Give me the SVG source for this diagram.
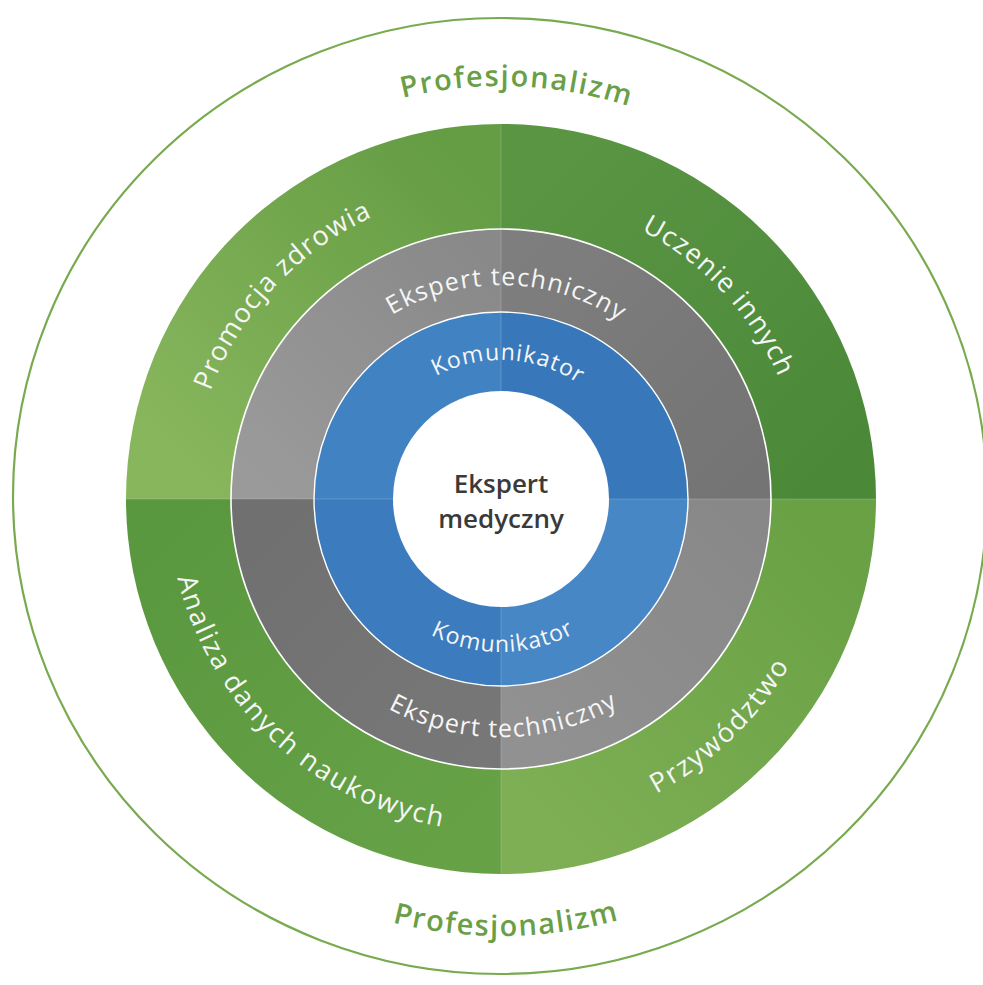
<svg xmlns="http://www.w3.org/2000/svg" xmlns:xlink="http://www.w3.org/1999/xlink" width="983" height="985" viewBox="0 0 983 985">
<style>
.lbl{font-family:"Open Sans","Liberation Sans",sans-serif;fill:#f6f6f6;}
.green{font-size:27px;letter-spacing:1.2px;}
.green2{font-size:27px;letter-spacing:2px;}
.et{font-size:25px;letter-spacing:1.3px;}
.kom{font-size:23px;letter-spacing:1px;}
.prof{font-family:"Open Sans","Liberation Sans",sans-serif;font-size:29px;font-weight:600;fill:#6a9f47;letter-spacing:1.6px;}
.center{font-family:"Open Sans","Liberation Sans",sans-serif;font-size:26px;font-weight:600;fill:#3a3a3a;}
.sep{fill:none;stroke:#ffffff;}
.seam{stroke:#ffffff;stroke-opacity:0.18;stroke-width:1;}
</style>
<defs>
<linearGradient id="gTL" gradientUnits="userSpaceOnUse" x1="-330" y1="-40" x2="-40" y2="-330"><stop offset="0" stop-color="#88b65d"/><stop offset="1" stop-color="#659d44"/></linearGradient>
<linearGradient id="gTR" gradientUnits="userSpaceOnUse" x1="40" y1="-330" x2="330" y2="-40"><stop offset="0" stop-color="#5a9543"/><stop offset="1" stop-color="#4b8939"/></linearGradient>
<linearGradient id="gBL" gradientUnits="userSpaceOnUse" x1="-330" y1="40" x2="-40" y2="330"><stop offset="0" stop-color="#5a983f"/><stop offset="1" stop-color="#66a146"/></linearGradient>
<linearGradient id="gBR" gradientUnits="userSpaceOnUse" x1="40" y1="330" x2="330" y2="40"><stop offset="0" stop-color="#7eaf55"/><stop offset="1" stop-color="#6aa145"/></linearGradient>
<linearGradient id="yTL" gradientUnits="userSpaceOnUse" x1="-250" y1="-30" x2="-30" y2="-250"><stop offset="0" stop-color="#9a9a9a"/><stop offset="1" stop-color="#898989"/></linearGradient>
<linearGradient id="yTR" gradientUnits="userSpaceOnUse" x1="30" y1="-250" x2="250" y2="-30"><stop offset="0" stop-color="#7e7e7e"/><stop offset="1" stop-color="#747474"/></linearGradient>
<linearGradient id="yBL" gradientUnits="userSpaceOnUse" x1="-250" y1="30" x2="-30" y2="250"><stop offset="0" stop-color="#707070"/><stop offset="1" stop-color="#777777"/></linearGradient>
<linearGradient id="yBR" gradientUnits="userSpaceOnUse" x1="30" y1="250" x2="250" y2="30"><stop offset="0" stop-color="#919191"/><stop offset="1" stop-color="#888888"/></linearGradient>
<path id="p-prof-top" d="M -349.5 -220.1 A 413 413 0 0 1 365.3 -192.6"/>
<path id="p-prof-bot" d="M -375.8 223.1 A 437 437 0 0 0 381.1 213.9"/>
<path id="p-et-top" d="M -209.6 -43.0 A 214 214 0 0 1 211.7 -31.3"/>
<path id="p-et-bot" d="M -233.9 44.2 A 238 238 0 0 0 234.9 38.5"/>
<path id="p-kom-top" d="M -135.4 -31.3 A 139 139 0 0 1 138.0 -16.9"/>
<path id="p-kom-bot" d="M -150.3 28.4 A 153 153 0 0 0 151.0 24.7"/>
<path id="p-prom" d="M -276.2 140.7 A 310 310 0 0 1 121.1 -285.4"/>
<path id="p-ucz" d="M -118.4 -278.9 A 303 303 0 0 1 270.0 137.6"/>
<path id="p-anal" d="M -287.7 -167.7 A 333 333 0 0 0 186.2 276.1"/>
<path id="p-przy" d="M -195.7 269.4 A 333 333 0 0 0 276.1 -186.2"/>
</defs>
<rect width="983" height="985" fill="#ffffff"/>
<g id="profesjonalizm">
<ellipse cx="500" cy="496" rx="487" ry="478" fill="#ffffff" stroke="#78aa4f" stroke-width="2.2"/>
<g transform="translate(501 499)">
<text class="prof"><textPath href="#p-prof-top" xlink:href="#p-prof-top" startOffset="50%" text-anchor="middle">Profesjonalizm</textPath></text>
<text class="prof"><textPath href="#p-prof-bot" xlink:href="#p-prof-bot" startOffset="50%" text-anchor="middle">Profesjonalizm</textPath></text>
</g>
</g>
<g transform="translate(501 499)">
<g id="promocja-zdrowia">
<path d="M0 0 L-375 0 A375 375 0 0 1 0 -375 Z" fill="url(#gTL)"/>
<text class="lbl green"><textPath href="#p-prom" xlink:href="#p-prom" startOffset="50%" text-anchor="middle">Promocja zdrowia</textPath></text>
</g>
<g id="uczenie-innych">
<path d="M0 0 L0 -375 A375 375 0 0 1 375 0 Z" fill="url(#gTR)"/>
<text class="lbl green"><textPath href="#p-ucz" xlink:href="#p-ucz" startOffset="50%" text-anchor="middle">Uczenie innych</textPath></text>
</g>
<g id="przywodztwo">
<path d="M0 0 L375 0 A375 375 0 0 1 0 375 Z" fill="url(#gBR)"/>
<text class="lbl green2"><textPath href="#p-przy" xlink:href="#p-przy" startOffset="50%" text-anchor="middle">Przywództwo</textPath></text>
</g>
<g id="analiza-danych">
<path d="M0 0 L0 375 A375 375 0 0 1 -375 0 Z" fill="url(#gBL)"/>
<text class="lbl green2"><textPath href="#p-anal" xlink:href="#p-anal" startOffset="50%" text-anchor="middle">Analiza danych naukowych</textPath></text>
</g>
<g id="ekspert-techniczny">
<path d="M0 0 L-270 0 A270 270 0 0 1 0 -270 Z" fill="url(#yTL)"/>
<path d="M0 0 L0 -270 A270 270 0 0 1 270 0 Z" fill="url(#yTR)"/>
<path d="M0 0 L270 0 A270 270 0 0 1 0 270 Z" fill="url(#yBR)"/>
<path d="M0 0 L0 270 A270 270 0 0 1 -270 0 Z" fill="url(#yBL)"/>
<circle class="sep" r="270" stroke-width="1.6"/>
<text class="lbl et"><textPath href="#p-et-top" xlink:href="#p-et-top" startOffset="50%" text-anchor="middle">Ekspert techniczny</textPath></text>
<text class="lbl et"><textPath href="#p-et-bot" xlink:href="#p-et-bot" startOffset="50%" text-anchor="middle">Ekspert techniczny</textPath></text>
</g>
<g id="komunikator">
<path d="M0 0 L-187 0 A187 187 0 0 1 0 -187 Z" fill="#4182c3"/>
<path d="M0 0 L0 -187 A187 187 0 0 1 187 0 Z" fill="#3878ba"/>
<path d="M0 0 L187 0 A187 187 0 0 1 0 187 Z" fill="#4787c5"/>
<path d="M0 0 L0 187 A187 187 0 0 1 -187 0 Z" fill="#3c7cbe"/>
<circle class="sep" r="187" stroke-width="1.4"/>
<text class="lbl kom"><textPath href="#p-kom-top" xlink:href="#p-kom-top" startOffset="50%" text-anchor="middle">Komunikator</textPath></text>
<text class="lbl kom"><textPath href="#p-kom-bot" xlink:href="#p-kom-bot" startOffset="50%" text-anchor="middle">Komunikator</textPath></text>
</g>
<g id="seams">
<line class="seam" x1="-375" y1="0" x2="-108" y2="0"/>
<line class="seam" x1="108" y1="0" x2="375" y2="0"/>
<line class="seam" x1="0" y1="-375" x2="0" y2="-108"/>
<line class="seam" x1="0" y1="108" x2="0" y2="375"/>
</g>
<g id="ekspert-medyczny">
<circle r="108" fill="#ffffff"/>
<text class="center" x="0" y="-6" text-anchor="middle">Ekspert</text>
<text class="center" x="0" y="29" text-anchor="middle">medyczny</text>
</g>
</g>
</svg>
